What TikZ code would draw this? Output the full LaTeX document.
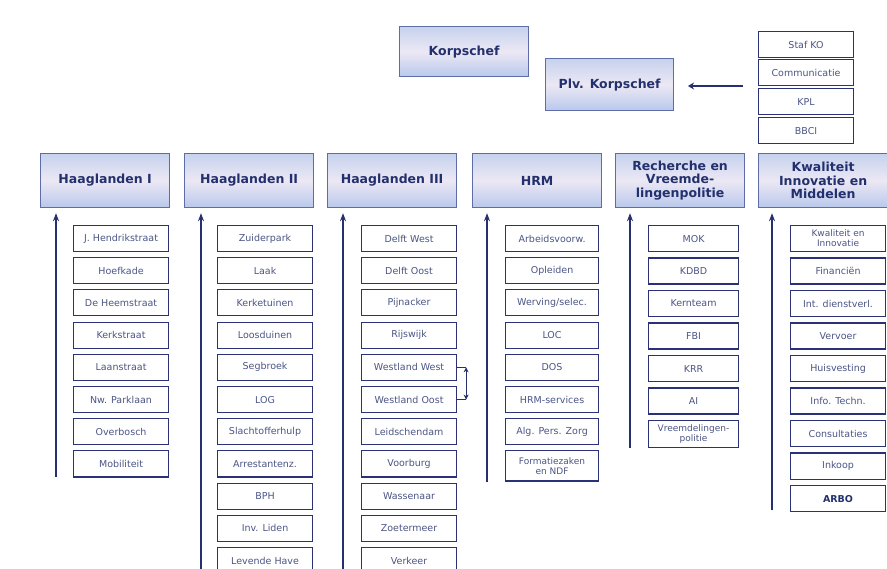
\documentclass[tikz,border=0pt]{standalone}
\usepackage{fontspec}
\setmainfont{DejaVu Sans}
\usetikzlibrary{arrows.meta}
\definecolor{hdrtop}{HTML}{C6D2EE}
\definecolor{hdrmid}{HTML}{ECE8F4}
\definecolor{hdrbot}{HTML}{B9C8EC}
\definecolor{hdrline}{HTML}{5E6CA8}
\definecolor{hdrtext}{HTML}{22306E}
\definecolor{subline}{HTML}{2A3275}
\definecolor{subtext}{HTML}{4B5585}
\definecolor{arrowc}{HTML}{27306E}
\tikzset{
  hdr/.style={rectangle, draw=hdrline, line width=1.2pt, top color=hdrtop, bottom color=hdrbot, middle color=hdrmid,
    minimum width=129pt, minimum height=54pt, anchor=north west, inner sep=0pt, align=center, text=hdrtext,
    font=\bfseries\fontsize{12.5}{13.5}\selectfont},
  subbox/.style={rectangle, draw=subline, line width=1.1pt, fill=white, minimum width=95pt, minimum height=26pt,
    anchor=north west, inner sep=0pt, align=center, text=subtext, font=\fontsize{9.5}{10}\selectfont},
  colarrow/.style={draw=arrowc, line width=2pt, -{Stealth[length=8pt,width=6pt]}, shorten >=5pt},
}
\begin{document}
\begin{tikzpicture}[x=1pt,y=-1pt]
\useasboundingbox[fill=white] (0,0) rectangle (887,569);
% top
\node[hdr, minimum width=129pt, minimum height=50pt] (ks) at (399,26) {Korpschef};
\node[hdr, minimum width=128pt, minimum height=52pt] (plv) at (545,58) {Plv. Korpschef};
\node[subbox] (st1) at (758,31) {Staf KO};
\node[subbox] (st2) at (758,59) {Communicatie};
\node[subbox] (st3) at (758,88) {KPL};
\node[subbox] (st4) at (758,117) {BBCI};
\coordinate (sa) at (743,86);
\coordinate (sb) at (688,86);
\draw[draw=arrowc, line width=2.8pt, -{Stealth[length=6pt,width=7pt]}] (sa) -- (sb);
% headers
\node[hdr] (h1) at (40,153) {Haaglanden I};
\node[hdr] (h2) at (184,153) {Haaglanden II};
\node[hdr] (h3) at (327,153) {Haaglanden III};
\node[hdr] (h4) at (472,153) {HRM};
\node[hdr] (h5) at (615,153) {Recherche en\\Vreemde-\\lingenpolitie};
\node[hdr] (h6) at (758,153) {Kwaliteit\\Innovatie en\\Middelen};
% columns
\foreach \t [count=\i] in {J. Hendrikstraat, Hoefkade, De Heemstraat, Kerkstraat, Laanstraat, Nw. Parklaan, Overbosch, Mobiliteit}
  \node[subbox] (a\i) at (73,{225+32.2*(\i-1)}) {\t};
\foreach \t [count=\i] in {Zuiderpark, Laak, Kerketuinen, Loosduinen, Segbroek, LOG, Slachtofferhulp, Arrestantenz., BPH, Inv. Liden, Levende Have}
  \node[subbox] (b\i) at (217,{225+32.2*(\i-1)}) {\t};
\foreach \t [count=\i] in {Delft West, Delft Oost, Pijnacker, Rijswijk, Westland West, Westland Oost, Leidschendam, Voorburg, Wassenaar, Zoetermeer, Verkeer}
  \node[subbox] (c\i) at (361,{225+32.2*(\i-1)}) {\t};
\foreach \t [count=\i] in {Arbeidsvoorw., Opleiden, Werving/selec., LOC, DOS, HRM-services, Alg. Pers. Zorg}
  \node[subbox, minimum width=93pt] (d\i) at (505,{225+32.2*(\i-1)}) {\t};
\node[subbox, minimum width=93pt, minimum height=30pt, font=\fontsize{9}{10}\selectfont] (d8) at (505,450.4) {Formatiezaken\\en NDF};
\foreach \t [count=\i] in {MOK, KDBD, Kernteam, FBI, KRR, AI}
  \node[subbox, minimum width=90pt] (e\i) at (648,{225+32.5*(\i-1)}) {\t};
\node[subbox, minimum width=90pt, minimum height=27pt, font=\fontsize{9}{10}\selectfont] (e7) at (648,420) {Vreemdelingen-\\politie};
\node[subbox, font=\fontsize{9}{10}\selectfont] (f1) at (790,225) {Kwaliteit en\\Innovatie};
\foreach \t [count=\i from 2] in {Financiën, Int. dienstverl., Vervoer, Huisvesting, Info. Techn., Consultaties, Inkoop}
  \node[subbox] (f\i) at (790,{225+32.5*(\i-1)}) {\t};
\node[subbox, font=\bfseries\fontsize{9.5}{10}\selectfont, text=hdrtext] (f9) at (790,485) {ARBO};
% column arrows
\coordinate (p1) at (56,477);
\coordinate (p2) at (201,575);
\coordinate (p3) at (343,575);
\coordinate (p4) at (487,482);
\coordinate (p5) at (630,448);
\coordinate (p6) at (772,510);
\draw[colarrow] (p1) -- (p1 |- h1.south);
\draw[colarrow] (p2) -- (p2 |- h2.south);
\draw[colarrow] (p3) -- (p3 |- h3.south);
\draw[colarrow] (p4) -- (p4 |- h4.south);
\draw[colarrow] (p5) -- (p5 |- h5.south);
\draw[colarrow] (p6) -- (p6 |- h6.south);
% Westland link
\draw[draw=arrowc, line width=0.9pt] (c5.east) -- ++(9,0);
\draw[draw=arrowc, line width=0.9pt] (c6.east) -- ++(9,0);
\draw[draw=arrowc, line width=1pt, {Stealth[length=5pt,width=5pt]}-{Stealth[length=5pt,width=5pt]}] ([xshift=9pt]c5.east) -- ([xshift=9pt]c6.east);
\end{tikzpicture}
\end{document}
